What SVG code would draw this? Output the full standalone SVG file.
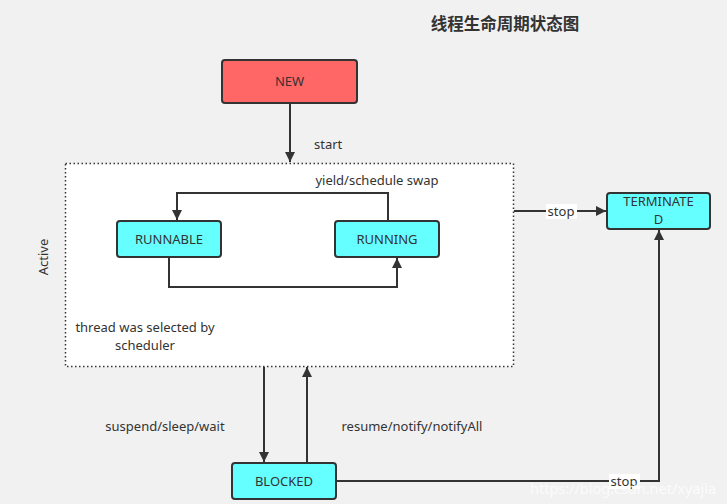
<svg xmlns="http://www.w3.org/2000/svg" width="727" height="504" viewBox="0 0 727 504">
<defs>
<style>
text{font-family:"Noto Sans","Open Sans","Liberation Sans","Noto Sans CJK SC",sans-serif;font-size:13px;fill:#333}
.box{stroke:#333;stroke-width:2}
.edge{fill:none;stroke:#333;stroke-width:2}
.lbl{fill:#fff}
</style>
<marker id="ah" viewBox="0 0 10 10" refX="10" refY="5" markerWidth="10" markerHeight="10" markerUnits="userSpaceOnUse" orient="auto">
<path d="M0,0 L10,5 L0,10 Z" fill="#333"/>
</marker>
</defs>
<rect width="727" height="504" fill="#f1f1f1"/>
<text x="505" y="30" text-anchor="middle" style="font-family:'Noto Sans CJK SC',sans-serif;font-size:16.5px;font-weight:bold">线程生命周期状态图</text>

<g id="active">
<rect x="65.5" y="163.5" width="448" height="203" fill="#fff" stroke="#333" stroke-width="1.5" stroke-dasharray="1.5,2.5"/>
<text x="48" y="257" text-anchor="middle" transform="rotate(-90 48 257)">Active</text>
<text x="145" y="332" text-anchor="middle">thread was selected by</text>
<text x="145" y="350" text-anchor="middle">scheduler</text>
</g>

<g id="connectors">
<path class="edge" d="M290,103 V162" marker-end="url(#ah)"/>
<text x="314" y="149">start</text>
<path class="edge" d="M388,221 V193 H177 V220" marker-end="url(#ah)"/>
<text x="377" y="185" text-anchor="middle">yield/schedule swap</text>
<path class="edge" d="M169,257 V287 H397 V258" marker-end="url(#ah)"/>
<path class="edge" d="M514,211 H606" marker-end="url(#ah)"/>
<rect class="lbl" x="546" y="204" width="31" height="15"/>
<text x="561" y="216" text-anchor="middle">stop</text>
<path class="edge" d="M264,367 V462" marker-end="url(#ah)"/>
<path class="edge" d="M307,463 V367" marker-end="url(#ah)"/>
<text x="165" y="431" text-anchor="middle">suspend/sleep/wait</text>
<text x="412" y="431" text-anchor="middle">resume/notify/notifyAll</text>
<path class="edge" d="M336,481 H659 V230" marker-end="url(#ah)"/>
<rect class="lbl" x="609" y="474" width="31" height="15"/>
<text x="624" y="486" text-anchor="middle">stop</text>
</g>

<g id="new">
<rect class="box" x="222" y="60" width="135" height="43" rx="3" fill="#ff6666"/>
<text x="289.5" y="86" text-anchor="middle">NEW</text>
</g>
<g id="runnable">
<rect class="box" x="117" y="221" width="104" height="36" rx="3" fill="#66ffff"/>
<text x="169" y="244" text-anchor="middle">RUNNABLE</text>
</g>
<g id="running">
<rect class="box" x="335" y="221" width="104" height="36" rx="3" fill="#66ffff"/>
<text x="387" y="244" text-anchor="middle">RUNNING</text>
</g>
<g id="terminated">
<rect class="box" x="607" y="193" width="103" height="36" rx="3" fill="#66ffff"/>
<text x="658.5" y="206" text-anchor="middle">TERMINATE</text>
<text x="658.5" y="224" text-anchor="middle">D</text>
</g>
<g id="blocked">
<rect class="box" x="232" y="463" width="104" height="36" rx="3" fill="#66ffff"/>
<text x="284" y="486" text-anchor="middle">BLOCKED</text>
</g>
<text x="623" y="494" text-anchor="middle" textLength="186" lengthAdjust="spacingAndGlyphs" style="font-size:15px;fill:#fff;fill-opacity:0.75">https://blog.csdn.net/xyajia</text>
</svg>
